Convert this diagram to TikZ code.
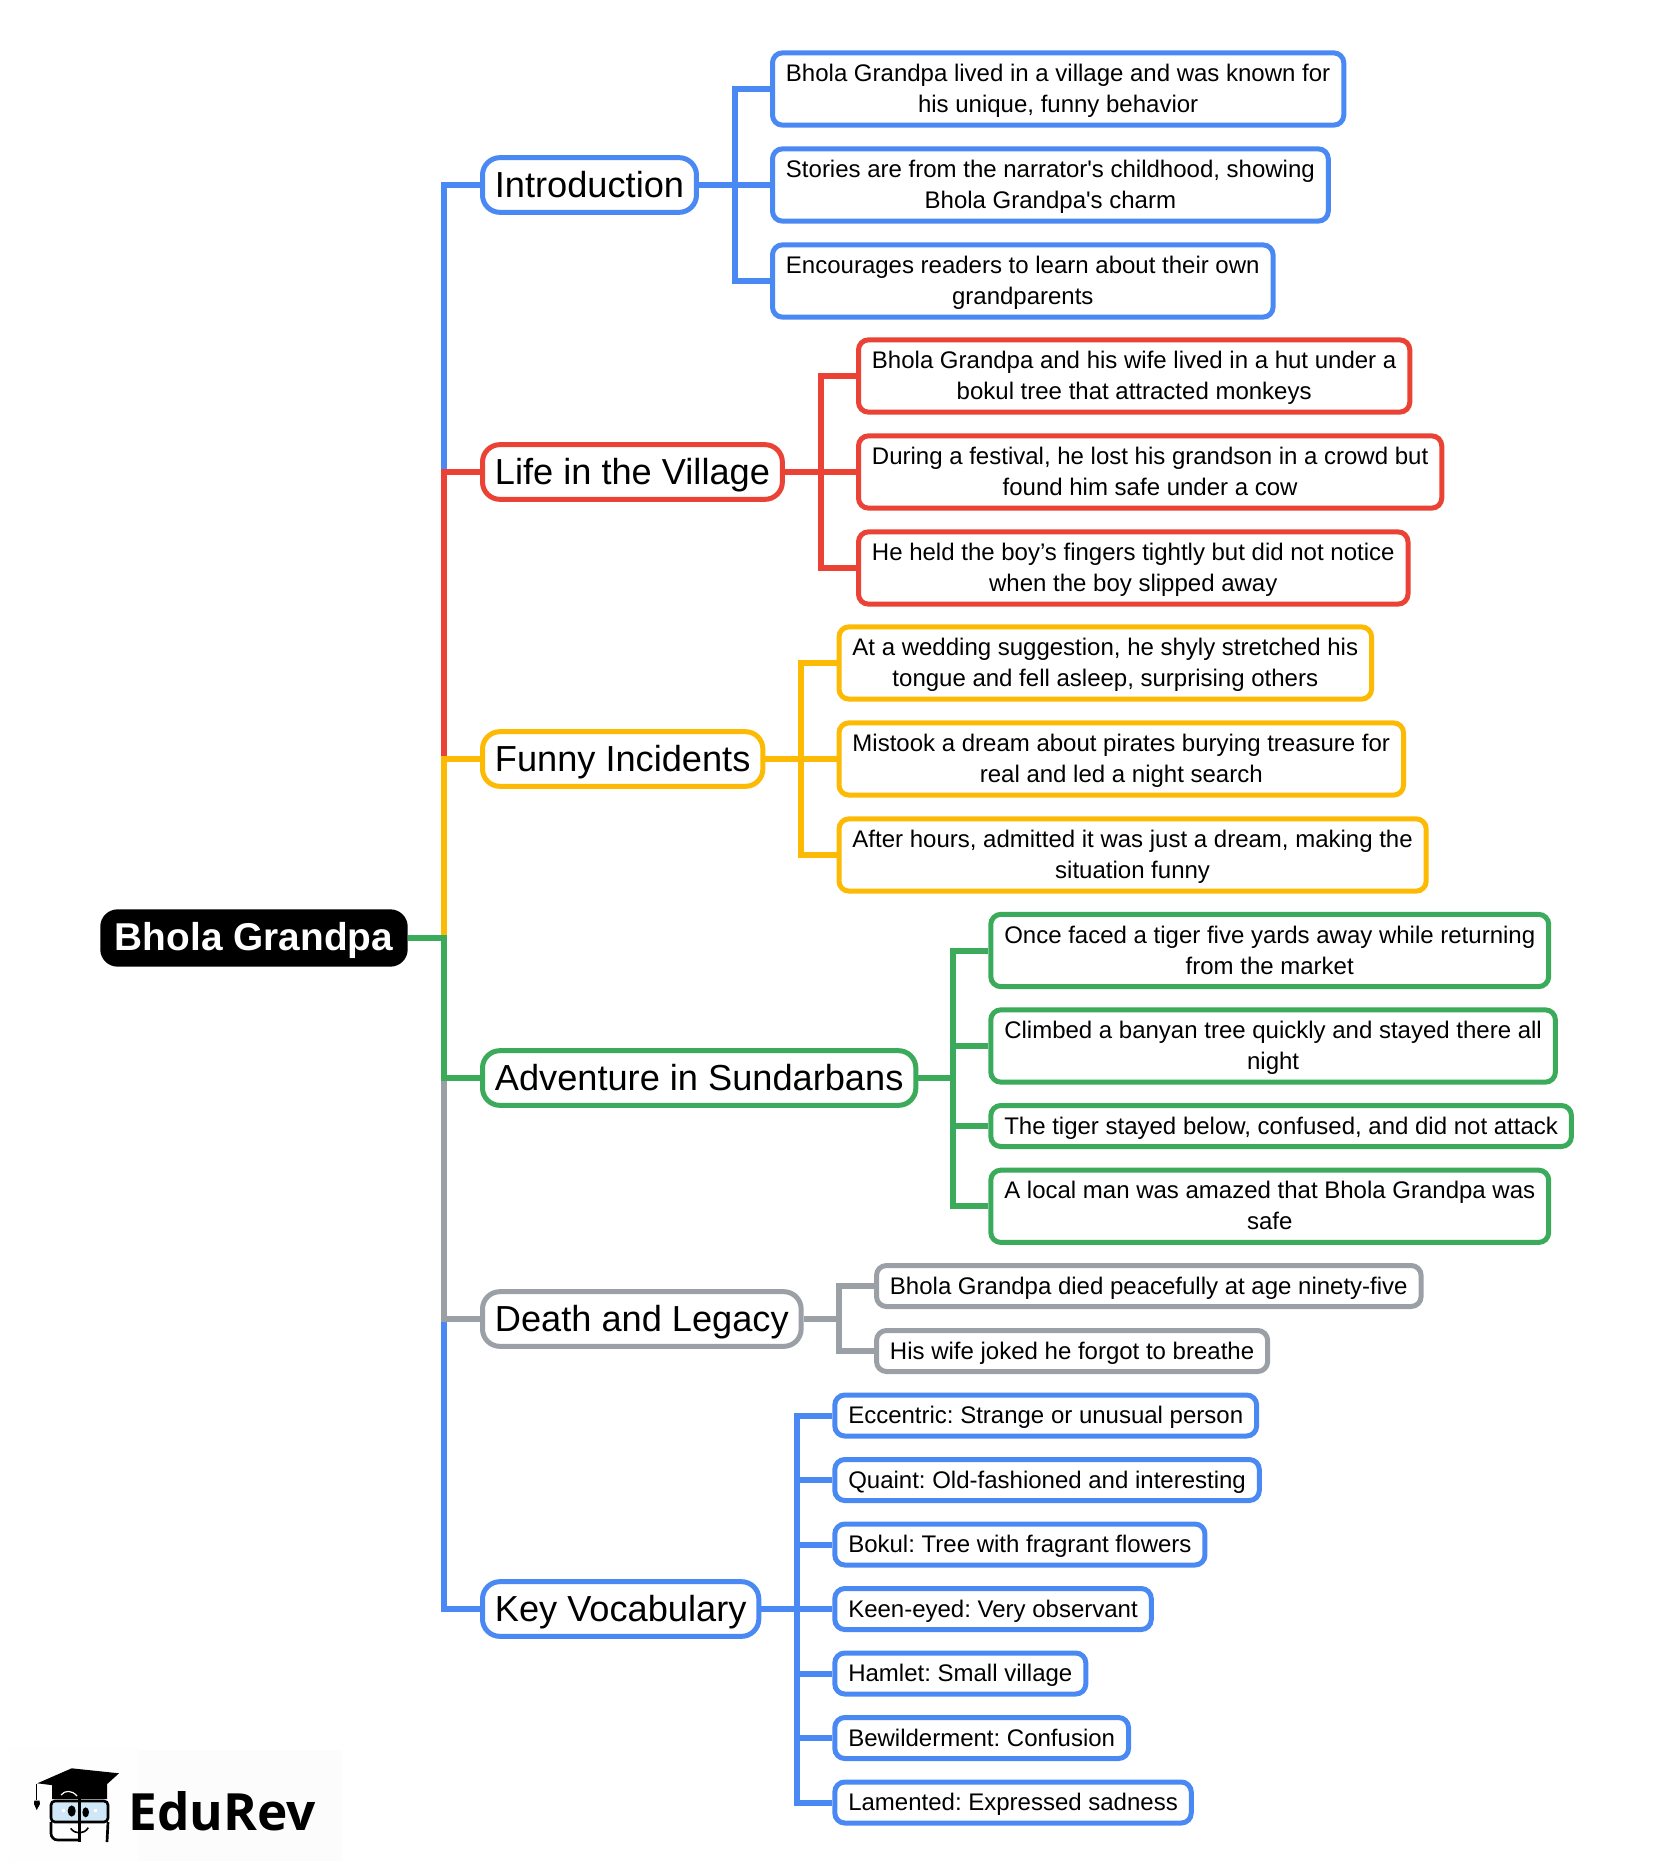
\documentclass[tikz,border=0pt]{standalone}
\usepackage{fontspec}
\setmainfont{Liberation Sans}
\newfontfamily\logofont{Open Sans}

\definecolor{bluebr}{HTML}{4A89F3}
\definecolor{redbr}{HTML}{EA4335}
\definecolor{yellowbr}{HTML}{FDBA04}
\definecolor{greenbr}{HTML}{3BAA5A}
\definecolor{greybr}{HTML}{9AA0A6}
\definecolor{glass}{HTML}{CFE7F6}

% fixed line boxes, so that every label sits at the same height
\newcommand{\substrut}{\rule[-5.5pt]{0pt}{23.25pt}}
\newcommand{\twolines}[2]{\substrut #1\\\substrut #2}
\newcommand{\topstrut}{\rule[-5.4pt]{0pt}{30pt}}
\newcommand{\rootstrut}{\rule[-4.6pt]{0pt}{30pt}}

\tikzset{
  rootbox/.style={fill=black,text=white,rounded corners=13pt,inner xsep=11pt,inner ysep=2pt,
    minimum height=43pt,font=\fontsize{29.1}{34}\selectfont\bfseries,anchor=west,
    execute at begin node=\rootstrut},
  topicbox/.style={draw=#1,fill=white,line width=3.75pt,rounded corners=13pt,inner xsep=9.3pt,inner ysep=2pt,
    minimum height=41pt,font=\fontsize{27.15}{32}\selectfont,anchor=west,
    execute at begin node=\topstrut},
  leafbox/.style={draw=#1,fill=white,line width=3.75pt,rounded corners=7.5pt,inner xsep=10.1pt,inner ysep=0pt,
    align=center,font=\fontsize{18}{23.25}\selectfont\frenchspacing,anchor=west},
  subbox/.style={leafbox=#1,minimum height=54.2pt},
  subline/.style={leafbox=#1,minimum height=30.75pt,execute at begin node=\substrut},
  link/.style={draw=#1,line width=4.5pt,line join=miter}
}

\begin{document}
\begin{tikzpicture}[x=.75pt,y=-.75pt]
  \useasboundingbox (0,0) rectangle (1675,1876);

  % logo backdrop
  \fill[black!0.5] (10,1747) rectangle (138,1862);
  \fill[black!1] (138,1750) rectangle (342,1861);

  % trunk and branch rails
  \coordinate (trunk)    at (444,938);
  \coordinate (introbus) at (735,185);
  \coordinate (lifebus)  at (821,472);
  \coordinate (funnybus) at (801,759);
  \coordinate (advbus)   at (952.7,1078);
  \coordinate (deathbus) at (839,1319);
  \coordinate (vocabbus) at (796.7,1609);

  \node[rootbox] (root) at (100,938) {Bhola Grandpa};

  \node[topicbox=bluebr]   (intro) at (480,185)  {Introduction};
  \node[topicbox=redbr]    (life)  at (480,472)  {Life in the Village};
  \node[topicbox=yellowbr] (funny) at (480,759)  {Funny Incidents};
  \node[topicbox=greenbr]  (adv)   at (480,1078) {Adventure in Sundarbans};
  \node[topicbox=greybr]   (death) at (480,1319) {Death and Legacy};
  \node[topicbox=bluebr]   (vocab) at (480,1609) {Key Vocabulary};

  \node[subbox=bluebr] (intro1) at (770,89)  {\twolines{Bhola Grandpa lived in a village and was known for}{his unique, funny behavior}};
  \node[subbox=bluebr] (intro2) at (770,185) {\twolines{Stories are from the narrator\textquotesingle s childhood, showing}{Bhola Grandpa\textquotesingle s charm}};
  \node[subbox=bluebr] (intro3) at (770,281) {\twolines{Encourages readers to learn about their own}{grandparents}};

  \node[subbox=redbr] (life1) at (856,376) {\twolines{Bhola Grandpa and his wife lived in a hut under a}{bokul tree that attracted monkeys}};
  \node[subbox=redbr] (life2) at (856,472) {\twolines{During a festival, he lost his grandson in a crowd but}{found him safe under a cow}};
  \node[subbox=redbr] (life3) at (856,568) {\twolines{He held the boy’s fingers tightly but did not notice}{when the boy slipped away}};

  \node[subbox=yellowbr] (funny1) at (836.5,663) {\twolines{At a wedding suggestion, he shyly stretched his}{tongue and fell asleep, surprising others}};
  \node[subbox=yellowbr] (funny2) at (836.5,759) {\twolines{Mistook a dream about pirates burying treasure for}{real and led a night search}};
  \node[subbox=yellowbr] (funny3) at (836.5,855) {\twolines{After hours, admitted it was just a dream, making the}{situation funny}};

  \node[subbox=greenbr]  (adv1) at (988.3,950.5) {\twolines{Once faced a tiger five yards away while returning}{from the market}};
  \node[subbox=greenbr]  (adv2) at (988.3,1046)  {\twolines{Climbed a banyan tree quickly and stayed there all}{night}};
  \node[subline=greenbr] (adv3) at (988.3,1126)  {The tiger stayed below, confused, and did not attack};
  \node[subbox=greenbr]  (adv4) at (988.3,1206.3) {\twolines{A local man was amazed that Bhola Grandpa was}{safe}};

  \node[subline=greybr] (death1) at (874,1286) {Bhola Grandpa died peacefully at age ninety-five};
  \node[subline=greybr] (death2) at (874,1351) {His wife joked he forgot to breathe};

  \node[subline=bluebr] (vocab1) at (832.3,1415.5) {Eccentric: Strange or unusual person};
  \node[subline=bluebr] (vocab2) at (832.3,1480)   {Quaint: Old-fashioned and interesting};
  \node[subline=bluebr] (vocab3) at (832.3,1544.5) {Bokul: Tree with fragrant flowers};
  \node[subline=bluebr] (vocab4) at (832.3,1609)   {Keen-eyed: Very observant};
  \node[subline=bluebr] (vocab5) at (832.3,1673.5) {Hamlet: Small village};
  \node[subline=bluebr] (vocab6) at (832.3,1738)   {Bewilderment: Confusion};
  \node[subline=bluebr] (vocab7) at (832.3,1802.5) {Lamented: Expressed sadness};

  % connectors
  \draw[link=bluebr]   (root.east) -- (trunk) |- (intro.west);
  \draw[link=redbr]    (root.east) -- (trunk) |- (life.west);
  \draw[link=yellowbr] (root.east) -- (trunk) |- (funny.west);
  \draw[link=bluebr]   (root.east) -- (trunk) |- (vocab.west);
  \draw[link=greybr]   (root.east) -- (trunk) |- (death.west);
  \draw[link=greenbr]  (root.east) -- (trunk) |- (adv.west);

  \foreach \sub in {intro1,intro2,intro3}
    \draw[link=bluebr] (intro.east) -- (introbus) |- (\sub.west);
  \foreach \sub in {life1,life2,life3}
    \draw[link=redbr] (life.east) -- (lifebus) |- (\sub.west);
  \foreach \sub in {funny1,funny2,funny3}
    \draw[link=yellowbr] (funny.east) -- (funnybus) |- (\sub.west);
  \foreach \sub in {adv1,adv2,adv3,adv4}
    \draw[link=greenbr] (adv.east) -- (advbus) |- (\sub.west);
  \foreach \sub in {death1,death2}
    \draw[link=greybr] (death.east) -- (deathbus) |- (\sub.west);
  \foreach \sub in {vocab1,vocab2,vocab3,vocab4,vocab5,vocab6,vocab7}
    \draw[link=bluebr] (vocab.east) -- (vocabbus) |- (\sub.west);

  % logo
  \node[anchor=base west,inner sep=0pt,font=\fontsize{38.5}{44}\selectfont\logofont\bfseries] (edurev) at (128,1830.7) {EduRev};
  \fill[black] (52,1785) -- (52,1799) -- (107,1799) -- (107,1784) -- cycle;
  \draw[white,line width=.9pt] (61,1795) .. controls (65,1790) and (72,1790) .. (77,1796);
  \fill[black] (37.3,1783.3) -- (71.7,1768.3) -- (119,1773.3) -- (95,1795) -- (65,1786.7) -- cycle;
  \draw[line width=1pt] (36.7,1784) -- (36.7,1800);
  \fill[black] (34.3,1800.7) -- (39.5,1800.7) -- (40,1804) -- (36.7,1810) -- (34,1804) -- cycle;
  \draw[line width=2pt,fill=glass,rounded corners=3pt] (51,1801) rectangle (108,1822);
  \draw[line width=2pt,rounded corners=5pt] (51,1822) -- (51,1840) -- (79,1840);
  \draw[line width=2pt,rounded corners=4pt] (108,1822) -- (107,1842);
  \draw[line width=2pt] (79.3,1798) -- (79.3,1842);
  \fill[white] (61.5,1808.5) rectangle (65,1812);
  \fill[white] (93.5,1808.5) rectangle (97,1812);
  \fill[black] (71.7,1811) ellipse (4 and 5.6);
  \fill[black] (85.7,1812.3) ellipse (3.3 and 5);
  \draw[line width=1.2pt] (70.7,1828.3) .. controls (75,1834.5) and (84,1834.5) .. (88.3,1827.7);
\end{tikzpicture}
\end{document}
